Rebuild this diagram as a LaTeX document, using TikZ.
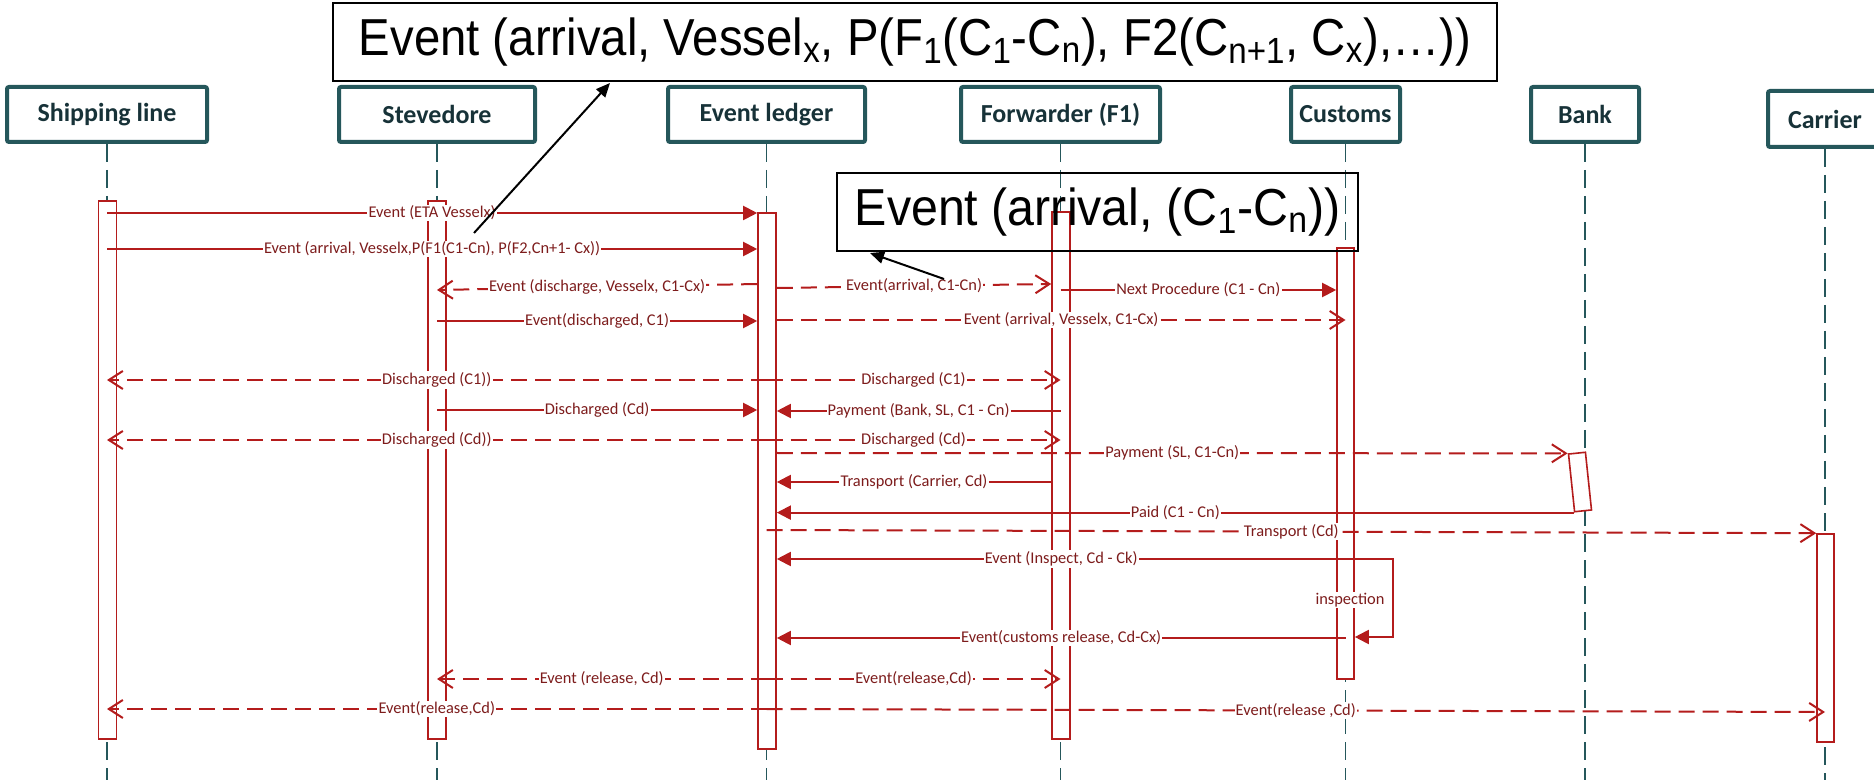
\documentclass[tikz,border=0pt]{standalone}
\usepackage{fontspec}
\setmainfont{Carlito}
\newfontfamily\arialfont{Liberation Sans}
\usetikzlibrary{positioning,arrows.meta}

\definecolor{sarcelle}{RGB}{37,87,91}
\definecolor{titre}{RGB}{23,50,56}
\definecolor{rouge}{RGB}{180,28,28}
\definecolor{texterouge}{RGB}{125,28,28}

\begin{document}
\begin{tikzpicture}[x=0.5pt, y=-0.5pt,
    acteur/.style={draw=sarcelle, line width=2pt, fill=white, rounded corners=1pt, minimum height=27.5pt, inner sep=0pt, text=titre, font=\fontsize{13}{15}\selectfont\bfseries},
    vie/.style={draw=sarcelle, line width=0.8pt, dash pattern=on 9pt off 4pt},
    barre/.style={draw=rouge, line width=0.8pt, fill=white, minimum width=9pt, inner sep=0pt},
    msg/.style={draw=rouge, line width=1pt, -{Triangle[length=7pt,width=7pt]}},
    rep/.style={draw=rouge, line width=1pt, dash pattern=on 8pt off 4pt, -{Straight Barb[length=7pt,width=9pt]}},
    lbl/.style={fill=white, inner sep=0.6pt, text=texterouge, font=\fontsize{8.2}{9}\selectfont},
    bulle/.style={draw=black, line width=1pt, inner sep=0pt, font=\arialfont\fontsize{26}{30}\selectfont},
    fleche/.style={draw=black, line width=1pt, -{Triangle[length=7pt,width=6pt]}}]
        \useasboundingbox (0,0) rectangle (1874,780);

        % Acteurs
        \node[acteur, minimum width=100pt] (sl)  at (107,114.5)    {Shipping line};
        \node[acteur, minimum width=98pt]  (ste) at (437,114.5)    {Stevedore};
        \node[acteur, minimum width=98.5pt] (led) at (766.5,114.5) {Event ledger};
        \node[acteur, minimum width=99.5pt] (fwd) at (1060.5,114.5) {Forwarder (F1)};
        \node[acteur, minimum width=54.5pt] (cus) at (1345.5,114.5) {Customs};
        \node[acteur, minimum width=54pt]  (bnk) at (1585,114.5)   {Bank};
        \node[acteur, minimum width=57pt, minimum height=28pt] (car) at (1825,119) {Carrier};

        % Lignes de vie
        \foreach \a in {sl,ste,led,fwd,cus,bnk,car}
            \draw[vie] (\a.south) -- (\a.south |- 0,780);

        % Barres d'activation
        \node[barre, minimum height=269pt] (asl)  at (107.5,470) {};
        \node[barre, minimum height=269pt] (aste) at (437,470)   {};
        \node[barre, minimum height=268pt] (aled) at (767,481)   {};
        \node[barre, minimum height=263.5pt] (afwd) at (1061,475.5) {};
        \node[barre, minimum height=215.5pt, minimum width=8.5pt] (acus) at (1345.5,463.5) {};
        \node[barre, minimum height=29pt, minimum width=8.5pt, rotate=6] (abnk) at (1580,482) {};
        \node[barre, minimum height=104pt, minimum width=8.5pt] (acar) at (1825.5,638) {};

        % Messages
        \draw[msg] (sl |- 0,213) -- node[lbl]{Event (ETA Vesselx)} (aled.west |- 0,213);
        \draw[msg] (sl |- 0,249) -- node[lbl]{Event (arrival, Vesselx,P(F1(C1-Cn), P(F2,Cn+1- Cx))} (aled.west |- 0,249);
        \draw[rep] (aled.west |- 0,284) -- node[lbl]{Event (discharge, Vesselx, C1-Cx)} (ste |- 0,290);
        \draw[rep] (aled.east |- 0,288) -- node[lbl]{Event(arrival, C1-Cn)} (afwd.west |- 0,284);
        \draw[msg] (fwd |- 0,290) -- node[lbl]{Next Procedure (C1 - Cn)} (acus.west |- 0,290);
        \draw[msg] (ste |- 0,321) -- node[lbl]{Event(discharged, C1)} (aled.west |- 0,321);
        \draw[rep] (aled.east |- 0,320) -- node[lbl]{Event (arrival, Vesselx, C1-Cx)} (cus |- 0,320);
        \draw[rep] (led |- 0,380) -- node[lbl]{Discharged (C1))} (sl |- 0,380);
        \draw[rep] (led |- 0,380) -- node[lbl]{Discharged (C1)} (fwd |- 0,380);
        \draw[msg] (ste |- 0,410) -- node[lbl]{Discharged (Cd)} (aled.west |- 0,410);
        \draw[msg] (fwd |- 0,411) -- node[lbl]{Payment (Bank, SL, C1 - Cn)} (aled.east |- 0,411);
        \draw[rep] (led |- 0,440) -- node[lbl]{Discharged (Cd))} (sl |- 0,440);
        \draw[rep] (led |- 0,440) -- node[lbl]{Discharged (Cd)} (fwd |- 0,440);
        \draw[rep] (aled.east |- 0,453) -- node[lbl]{Payment (SL, C1-Cn)} (abnk.north west);
        \draw[msg] (afwd.west |- 0,482) -- node[lbl]{Transport (Carrier, Cd)} (aled.east |- 0,482);
        \draw[msg] (abnk.south west) -- node[lbl]{Paid (C1 - Cn)} (aled.east |- abnk.south west);
        \draw[rep] (led |- 0,530) -- node[lbl]{Transport (Cd)} (acar.north west);
        \draw[msg] (cus |- 0,559) -- node[lbl]{Event (Inspect, Cd - Ck)} (aled.east |- 0,559);
        \draw[msg] (cus |- 0,559) -- ++(47,0) |- (acus.east |- 0,637);
        \node[lbl] (insp) at (1350,600) {inspection};
        \draw[msg] (cus |- 0,638) -- node[lbl]{Event(customs release, Cd-Cx)} (aled.east |- 0,638);
        \draw[rep] (led |- 0,679) -- node[lbl]{Event (release, Cd)} (ste |- 0,679);
        \draw[rep] (led |- 0,679) -- node[lbl]{Event(release,Cd)} (fwd |- 0,679);
        \draw[rep] (led |- 0,709) -- node[lbl]{Event(release,Cd)} (sl |- 0,709);
        \draw[rep] (led |- 0,709) -- node[lbl]{Event(release ,Cd)} (car |- 0,712);

        % Bulles
        \node[bulle, minimum width=582pt, minimum height=39pt] (cA) at (915,42)
            {\scalebox{0.91}[1]{Event (arrival, Vessel\textsubscript{x}, P(F\textsubscript{1}(C\textsubscript{1}-C\textsubscript{n}), F2(C\textsubscript{n+1}, C\textsubscript{x}),…))}};
        \node[bulle, minimum width=260.5pt, minimum height=39pt] (cB) at (1097.5,212)
            {\scalebox{0.93}[1]{Event (arrival, (C\textsubscript{1}-C\textsubscript{n}))}};
        \coordinate (pA) at (474,233);
        \coordinate (tA) at (610,83);
        \coordinate (pB) at (944,279);
        \coordinate (tB) at (870,253);
        \draw[fleche] (pA) -- (tA);
        \draw[fleche] (pB) -- (tB);
    \end{tikzpicture}
\end{document}
